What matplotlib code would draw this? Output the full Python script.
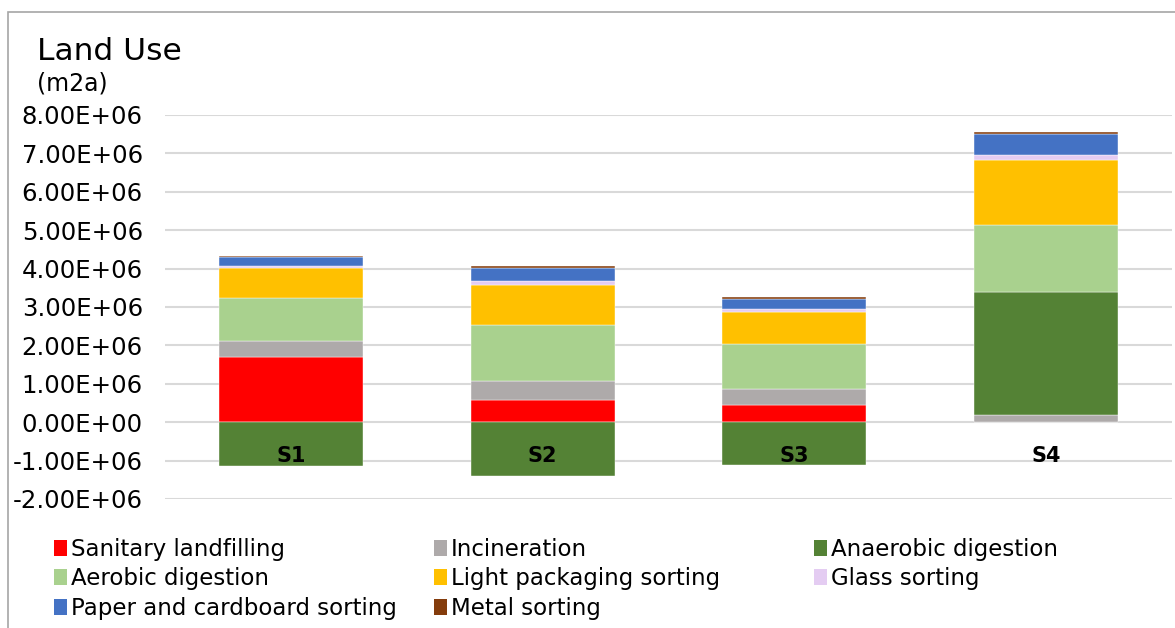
import numpy as np
import matplotlib
matplotlib.use('Agg')
import matplotlib.pyplot as plt
from matplotlib.patches import Patch, Rectangle

plt.rcParams['font.family'] = ['DejaVu Sans']

scenarios = ['S1', 'S2', 'S3', 'S4']
series = ['Sanitary landfilling', 'Incineration', 'Anaerobic digestion',
          'Aerobic digestion', 'Light packaging sorting', 'Glass sorting',
          'Paper and cardboard sorting', 'Metal sorting']
colors = ['#FF0000', '#AEAAAA', '#548235', '#A9D18E',
          '#FFC000', '#E4CCF2', '#4472C4', '#843C0C']

# values (m2a)
sanitary = [1.71e6, 0.58e6, 0.45e6, 0.0]
incineration = [0.41e6, 0.48e6, 0.41e6, 0.19e6]
anaerobic = [-1.13e6, -1.40e6, -1.12e6, 3.20e6]
aerobic = [1.11e6, 1.48e6, 1.18e6, 1.75e6]
light_pack = [0.78e6, 1.04e6, 0.82e6, 1.68e6]
glass = [0.06e6, 0.09e6, 0.09e6, 0.14e6]
paper = [0.24e6, 0.35e6, 0.26e6, 0.54e6]
metal = [0.03e6, 0.04e6, 0.04e6, 0.07e6]

data = [sanitary, incineration, anaerobic, aerobic, light_pack, glass, paper, metal]

fig = plt.figure(figsize=(11.75, 6.28), dpi=100)
ax = fig.add_axes([165/1175, 1-499/628, 1007/1175, (499-115)/628])

x = np.arange(len(scenarios))
pos_base = np.zeros(len(scenarios))
neg_base = np.zeros(len(scenarios))
for name, vals, c in zip(series, data, colors):
    vals = np.array(vals)
    bottom = np.where(vals >= 0, pos_base, neg_base)
    ax.bar(x, vals, 0.572, bottom=bottom, color=c, label=name, zorder=3,
           edgecolor='white', linewidth=0.3)
    pos_base = pos_base + np.where(vals >= 0, vals, 0)
    neg_base = neg_base + np.where(vals < 0, vals, 0)

ax.set_xlim(-0.5, len(scenarios) - 0.5)
ax.set_ylim(-2e6, 8e6)
ax.set_yticks(np.arange(-2e6, 8.01e6, 1e6))
ax.set_yticklabels(['%.2E' % v for v in np.arange(-2e6, 8.01e6, 1e6)], fontsize=17.6)
ax.set_xticks([])
ax.tick_params(axis='y', length=0, pad=16)
ax.grid(axis='y', color='#D9D9D9', linewidth=1.5, zorder=0)
for s in ax.spines.values():
    s.set_visible(False)

for i, s in enumerate(scenarios):
    ax.annotate(s, xy=(i, 0), xytext=(0, -24), textcoords='offset points',
                ha='center', va='center', fontsize=15, fontweight='bold', zorder=5)

fig.text(37/1175, 1-51/628, 'Land Use', fontsize=22.5, va='center', ha='left')
fig.text(37/1175, 1-83/628, '(m2a)', fontsize=17, va='center', ha='left')

# chart border (top and left visible)
fig.patches.append(Rectangle((8/1175, -0.1), 1.2, 1-12/628+0.1, transform=fig.transFigure,
                             fill=False, edgecolor='#A6A6A6', linewidth=1.2))

handles = [Patch(facecolor=c, edgecolor='none') for c in colors]
cols = [[0, 3, 6], [1, 4, 7], [2, 5]]
col_x = [54, 434, 814]
for cx, idx in zip(col_x, cols):
    leg = fig.legend([handles[i] for i in idx], [series[i] for i in idx],
                     loc='upper left', bbox_to_anchor=(cx/1175, 1-538/628),
                     frameon=False, fontsize=16.5, handlelength=0.55, handleheight=0.7,
                     handletextpad=0.2, labelspacing=0.28, borderpad=0, borderaxespad=0)

fig.savefig('out.png', dpi=100)
